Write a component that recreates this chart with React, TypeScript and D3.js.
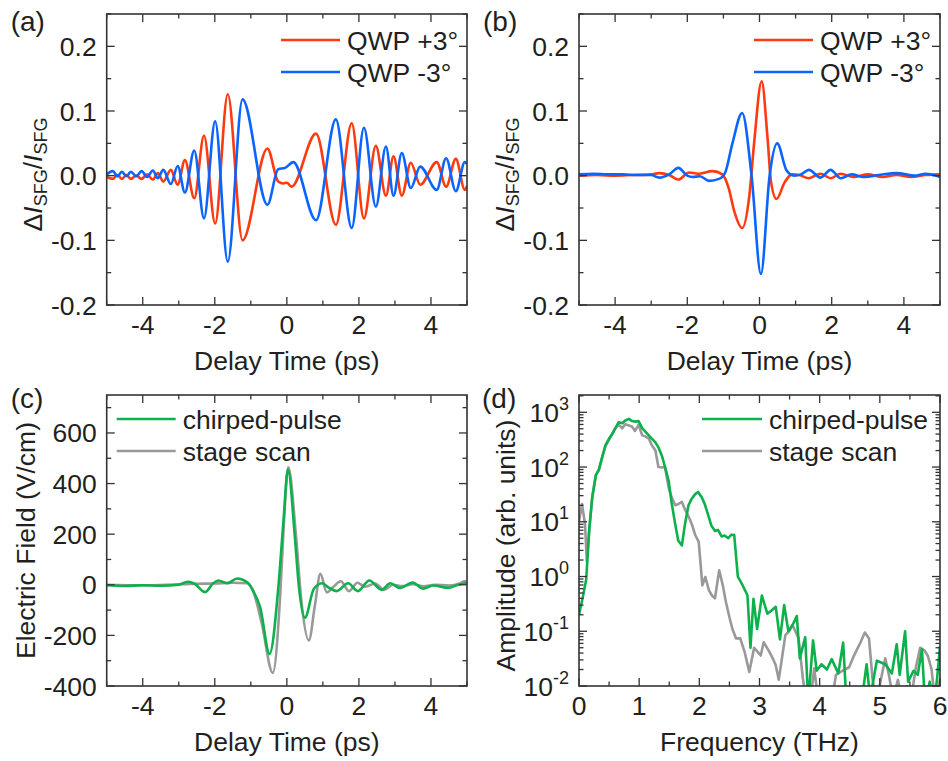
import React from 'react';
import * as d3 from 'd3';

// ---------- DATA ----------
// Panel (a): chirped SFG signal, delay time (ps) vs ΔI/I
const aQwpPlus: [number, number][] = [
  [-5.0, -0.002], [-4.83, -0.005], [-4.70, 0.001], [-4.58, -0.005], [-4.45, 0.001], [-4.33, -0.005],
  [-4.18, 0.0], [-4.03, -0.005], [-3.88, 0.002], [-3.72, -0.006], [-3.58, 0.004], [-3.43, -0.009],
  [-3.22, 0.009], [-3.03, -0.014], [-2.83, 0.024], [-2.57, -0.035], [-2.30, 0.062], [-1.99, -0.074],
  [-1.64, 0.126], [-1.23, -0.100], [-0.54, 0.042], [-0.24, -0.009], [-0.10, -0.012], [0.0, -0.011],
  [0.13, -0.017], [0.81, 0.065], [1.36, -0.076], [1.80, 0.081], [2.14, -0.066], [2.47, 0.046],
  [2.75, -0.031], [2.96, 0.030], [3.19, -0.031], [3.44, 0.020], [3.70, -0.014], [4.16, 0.021],
  [4.42, -0.017], [4.69, 0.026], [4.94, -0.022], [5.0, -0.016],
];
const aQwpMinus: [number, number][] = [
  [-5.0, 0.002], [-4.83, 0.007], [-4.70, -0.001], [-4.58, 0.006], [-4.45, -0.001], [-4.33, 0.006],
  [-4.18, -0.001], [-4.03, 0.007], [-3.88, -0.002], [-3.72, 0.008], [-3.58, -0.004], [-3.43, 0.009],
  [-3.22, -0.013], [-3.03, 0.015], [-2.83, -0.026], [-2.57, 0.039], [-2.30, -0.066], [-1.99, 0.084],
  [-1.64, -0.133], [-1.23, 0.118], [-0.54, -0.045], [-0.24, 0.010], [-0.05, 0.012], [0.18, 0.021],
  [0.81, -0.069], [1.36, 0.087], [1.80, -0.081], [2.14, 0.074], [2.47, -0.048], [2.75, 0.045],
  [2.96, -0.031], [3.19, 0.035], [3.44, -0.019], [3.70, 0.014], [4.16, -0.022], [4.42, 0.027],
  [4.69, -0.024], [4.94, 0.021], [5.0, 0.018],
];

// Panel (b): compressed pulse
const bQwpPlus: [number, number][] = [
  [-5.0, 0.0], [-4.5, 0.001], [-4.0, 0.0], [-3.5, 0.001], [-3.0, 0.002], [-2.78, 0.004], [-2.5, 0.001],
  [-2.25, -0.006], [-1.95, 0.005], [-1.70, 0.003], [-1.30, 0.007], [-1.03, 0.002], [-0.85, -0.02],
  [-0.70, -0.055], [-0.48, -0.081], [-0.28, -0.03], [-0.15, 0.05], [0.06, 0.146], [0.22, 0.06],
  [0.32, -0.01], [0.47, -0.036], [0.70, -0.01], [0.90, 0.002], [1.1, 0.001], [1.37, -0.004],
  [1.69, 0.003], [1.97, -0.004], [2.25, 0.003], [2.6, -0.002], [3.0, 0.002], [3.4, -0.002],
  [3.8, 0.001], [4.2, -0.002], [4.6, 0.001], [5.0, 0.002],
];
const bQwpMinus: [number, number][] = [
  [-5.0, 0.002], [-4.6, 0.003], [-4.2, 0.002], [-3.8, 0.002], [-3.4, 0.001], [-3.0, 0.001],
  [-2.78, -0.003], [-2.5, 0.002], [-2.25, 0.012], [-2.0, 0.0], [-1.86, -0.002], [-1.65, -0.001],
  [-1.40, -0.008], [-1.12, -0.005], [-0.95, 0.005], [-0.75, 0.05], [-0.48, 0.097], [-0.22, 0.0],
  [0.04, -0.152], [0.28, 0.0], [0.49, 0.050], [0.75, 0.008], [0.96, 0.0], [1.15, 0.002],
  [1.37, 0.009], [1.69, -0.003], [1.97, 0.009], [2.25, -0.004], [2.55, 0.002], [2.9, -0.002],
  [3.3, 0.001], [3.8, 0.004], [4.3, 0.0], [4.6, 0.003], [5.0, -0.002],
];

// Panel (c): electric field (V/cm)
const cChirped: [number, number][] = [
  [-5.0, -2], [-4.5, -5], [-4.0, -2], [-3.5, -4], [-3.0, 0], [-2.75, 12], [-2.55, 3], [-2.27, -29],
  [-2.05, 5], [-1.90, 17], [-1.65, 6], [-1.38, 25], [-1.10, 10], [-0.95, -20], [-0.74, -89],
  [-0.48, -273], [-0.23, 0], [-0.10, 240], [0.03, 455], [0.23, 175], [0.33, 0], [0.50, -130],
  [0.75, -16], [0.98, 6], [1.15, -10], [1.38, -25], [1.70, 6], [1.97, -25], [2.29, 17], [2.63, -20],
  [2.87, 6], [3.14, -13], [3.49, 9], [3.78, -15], [4.07, -3], [4.48, -12], [4.71, -2], [5.0, 8],
];
const cStage: [number, number][] = [
  [-5.0, 0], [-4.0, -2], [-3.0, 2], [-2.5, 4], [-2.0, 5], [-1.5, 8], [-1.1, 6], [-0.95, -20],
  [-0.70, -150], [-0.39, -348], [-0.18, -30], [-0.08, 250], [0.04, 464], [0.25, 200], [0.40, -60],
  [0.61, -220], [0.78, -80], [0.93, 43], [1.11, -30], [1.28, -10], [1.50, 14], [1.72, -25],
  [1.96, 8], [2.17, -8], [2.45, 5], [2.70, -20], [2.95, 0], [3.2, -5], [3.5, 2], [3.8, -6],
  [4.1, 0], [4.5, -3], [4.8, 5], [4.93, 15], [5.0, 10],
];

// Panel (d): spectral amplitude (arb. units) vs frequency (THz)
const dChirped: [number, number][] = [
  [0.00, 0.20], [0.06, 0.40], [0.12, 0.89], [0.17, 7.1], [0.22, 28], [0.28, 71], [0.33, 89],
  [0.39, 158], [0.44, 251], [0.50, 331], [0.55, 398], [0.61, 525], [0.66, 661], [0.72, 631],
  [0.77, 708], [0.83, 759], [0.88, 692], [0.94, 676], [0.99, 692], [1.05, 513], [1.10, 447],
  [1.16, 380], [1.21, 331], [1.27, 282], [1.32, 229], [1.38, 158], [1.43, 100], [1.49, 56],
  [1.54, 22], [1.60, 8.9], [1.65, 4.5], [1.71, 3.7], [1.76, 8.9], [1.82, 20], [1.87, 26],
  [1.93, 32], [1.98, 35], [2.04, 28], [2.09, 21], [2.15, 13], [2.20, 8.5], [2.26, 6.8],
  [2.31, 7.1], [2.37, 5.4], [2.42, 5.6], [2.48, 5.0], [2.53, 5.8], [2.58, 5.7], [2.64, 1.0],
  [2.70, 0.76], [2.76, 0.56], [2.80, 0.45], [2.85, 0.05], [2.90, 0.39], [2.96, 0.11], [3.04, 0.45],
  [3.13, 0.21], [3.20, 0.24], [3.27, 0.28], [3.34, 0.071], [3.41, 0.30], [3.48, 0.10], [3.55, 0.13],
  [3.62, 0.19], [3.67, 0.032], [3.76, 0.078], [3.81, 0.005], [3.89, 0.068], [3.95, 0.019],
  [4.03, 0.025], [4.12, 0.020], [4.20, 0.031], [4.31, 0.017], [4.39, 0.062], [4.45, 0.004],
  [4.55, 0.003], [4.65, 0.004], [4.72, 0.008], [4.78, 0.025], [4.84, 0.006], [4.95, 0.029],
  [5.09, 0.025], [5.20, 0.017], [5.28, 0.058], [5.33, 0.016], [5.42, 0.10], [5.47, 0.012],
  [5.56, 0.019], [5.63, 0.016], [5.70, 0.047], [5.75, 0.005], [5.83, 0.012], [5.90, 0.005],
  [5.95, 0.013], [6.00, 0.054],
];
const dStage: [number, number][] = [
  [0.00, 10], [0.05, 21], [0.10, 9], [0.13, 1.9], [0.17, 7.1], [0.22, 28], [0.28, 71], [0.33, 89],
  [0.39, 158], [0.44, 240], [0.50, 316], [0.55, 398], [0.61, 525], [0.66, 589], [0.72, 513],
  [0.77, 603], [0.83, 575], [0.88, 550], [0.93, 457], [0.99, 589], [1.05, 380], [1.10, 363],
  [1.16, 331], [1.21, 251], [1.27, 200], [1.32, 100], [1.38, 98], [1.43, 100], [1.49, 42],
  [1.54, 28], [1.60, 20], [1.65, 21], [1.71, 23], [1.76, 17], [1.82, 12.6], [1.88, 8.7],
  [1.93, 5.8], [1.99, 4.3], [2.05, 0.69], [2.10, 0.98], [2.16, 0.56], [2.21, 0.45], [2.26, 0.40],
  [2.33, 1.3], [2.39, 0.69], [2.44, 0.35], [2.50, 0.18], [2.55, 0.11], [2.61, 0.074], [2.68, 0.074],
  [2.75, 0.043], [2.83, 0.018], [2.91, 0.050], [2.97, 0.042], [3.02, 0.036], [3.07, 0.063],
  [3.16, 0.043], [3.22, 0.032], [3.27, 0.024], [3.32, 0.013], [3.43, 0.085], [3.49, 0.10],
  [3.55, 0.13], [3.65, 0.074], [3.72, 0.014], [3.78, 0.005], [3.85, 0.006], [3.91, 0.021],
  [3.97, 0.006], [4.05, 0.004], [4.12, 0.008], [4.20, 0.005], [4.27, 0.016], [4.38, 0.019],
  [4.49, 0.022], [4.57, 0.036], [4.68, 0.063], [4.75, 0.095], [4.82, 0.074], [4.88, 0.013],
  [4.95, 0.005], [5.01, 0.012], [5.09, 0.032], [5.15, 0.016], [5.22, 0.006], [5.30, 0.013],
  [5.38, 0.005], [5.45, 0.010], [5.52, 0.006], [5.60, 0.022], [5.67, 0.050], [5.74, 0.045],
  [5.80, 0.035], [5.86, 0.020], [5.92, 0.005], [6.00, 0.013],
];

// Tick labels
const delayTicks = [-4, -2, 0, 2, 4];
const delayMinor = [-5, -3, -1, 1, 3, 5];
const sfgTicks = [-0.2, -0.1, 0.0, 0.1, 0.2];
const sfgMinor = [-0.15, -0.05, 0.05, 0.15, 0.25];
const fieldTicks = [-400, -200, 0, 200, 400, 600];
const fieldMinor = [-300, -100, 100, 300, 500, 700];
const freqTicks = [0, 1, 2, 3, 4, 5, 6];
const freqMinor = [0.5, 1.5, 2.5, 3.5, 4.5, 5.5];
const ampExponents = [-2, -1, 0, 1, 2, 3];
const ampMantissas = [2, 3, 4, 5, 6, 7, 8, 9];

const legendQWP = ['QWP +3°', 'QWP -3°'];
const legendField = ['chirped-pulse', 'stage scan'];

// ---------- STYLE ----------
const FONT = '"Liberation Sans", Arial, Helvetica, sans-serif';
const TXT = '#231f20';
const AX = '#333333';
const RED = '#ff3a0e';
const BLUE = '#0a64ff';
const GREEN = '#0db14b';
const GRAY = '#999999';
const FS = 26.5;
const SUB = 18;

type Box = { l: number; r: number; t: number; b: number };
type Scale = (v: number) => number;

function Frame({ box, x, y, xMaj, xMin, yMaj, yMin }: {
  box: Box; x: Scale; y: Scale; xMaj: number[]; xMin: number[]; yMaj: number[]; yMin: number[];
}) {
  const MJ = 8, MN = 4.5;
  const segs: React.ReactNode[] = [];
  const inX = (v: number) => x(v) >= box.l - 0.5 && x(v) <= box.r + 0.5;
  const inY = (v: number) => y(v) >= box.t - 0.5 && y(v) <= box.b + 0.5;
  xMaj.filter(inX).forEach((v, i) => {
    segs.push(<line key={'xb' + i} x1={x(v)} x2={x(v)} y1={box.b} y2={box.b - MJ} />);
    segs.push(<line key={'xt' + i} x1={x(v)} x2={x(v)} y1={box.t} y2={box.t + MJ} />);
  });
  xMin.filter(inX).forEach((v, i) => {
    segs.push(<line key={'xbm' + i} x1={x(v)} x2={x(v)} y1={box.b} y2={box.b - MN} />);
    segs.push(<line key={'xtm' + i} x1={x(v)} x2={x(v)} y1={box.t} y2={box.t + MN} />);
  });
  yMaj.filter(inY).forEach((v, i) => {
    segs.push(<line key={'yl' + i} x1={box.l} x2={box.l + MJ} y1={y(v)} y2={y(v)} />);
    segs.push(<line key={'yr' + i} x1={box.r} x2={box.r - MJ} y1={y(v)} y2={y(v)} />);
  });
  yMin.filter(inY).forEach((v, i) => {
    segs.push(<line key={'ylm' + i} x1={box.l} x2={box.l + MN} y1={y(v)} y2={y(v)} />);
    segs.push(<line key={'yrm' + i} x1={box.r} x2={box.r - MN} y1={y(v)} y2={y(v)} />);
  });
  return (
    <g stroke={AX} strokeWidth={1.3} fill="none">
      {segs}
      <rect x={box.l} y={box.t} width={box.r - box.l} height={box.b - box.t} strokeWidth={1.6} />
    </g>
  );
}

function XLabels({ box, x, ticks, fmt }: { box: Box; x: Scale; ticks: number[]; fmt: (v: number) => string }) {
  return (
    <g fontFamily={FONT} fontSize={FS} fill={TXT} textAnchor="middle">
      {ticks.map((v) => (
        <text key={v} x={x(v)} y={box.b + 29}>{fmt(v)}</text>
      ))}
    </g>
  );
}

function YLabels({ box, y, ticks, fmt }: { box: Box; y: Scale; ticks: number[]; fmt: (v: number) => string }) {
  return (
    <g fontFamily={FONT} fontSize={FS} fill={TXT} textAnchor="end">
      {ticks.map((v) => (
        <text key={v} x={box.l - 10} y={y(v) + 9.5}>{fmt(v)}</text>
      ))}
    </g>
  );
}

function Legend({ x1, x2, ys, colors, labels }: { x1: number; x2: number; ys: number[]; colors: string[]; labels: string[] }) {
  return (
    <g fontFamily={FONT} fontSize={FS} fill={TXT}>
      {labels.map((lab, i) => (
        <g key={lab}>
          <line x1={x1} x2={x2} y1={ys[i]} y2={ys[i]} stroke={colors[i]} strokeWidth={2.6} />
          <text x={x2 + 7} y={ys[i] + 9.5}>{lab}</text>
        </g>
      ))}
    </g>
  );
}

function SfgTitle({ x, y }: { x: number; y: number }) {
  return (
    <text transform={`translate(${x},${y}) rotate(-90)`} textAnchor="middle" fontFamily={FONT} fontSize={FS} fill={TXT}>
      <tspan>Δ</tspan>
      <tspan fontStyle="italic">I</tspan>
      <tspan fontSize={SUB} dy={5}>SFG</tspan>
      <tspan dy={-5}>/</tspan>
      <tspan fontStyle="italic">I</tspan>
      <tspan fontSize={SUB} dy={5}>SFG</tspan>
    </text>
  );
}

const fmtDelay = (v: number) => (v < 0 ? '-' + Math.abs(v) : String(v));
const fmtSfg = (v: number) => (v < 0 ? '-' + Math.abs(v).toFixed(1) : v.toFixed(1));

function SfgPanel({ box, plus, minus, label, id }: { box: Box; plus: [number, number][]; minus: [number, number][]; label: string; id: string }) {
  const x = d3.scaleLinear().domain([-5, 5]).range([box.l, box.r]);
  const y = d3.scaleLinear().domain([-0.2, 0.25]).range([box.b, box.t]);
  const line = d3.line<[number, number]>().x((d) => x(d[0])).y((d) => y(d[1])).curve(d3.curveMonotoneX);
  return (
    <g>
      <defs>
        <clipPath id={id}><rect x={box.l} y={box.t} width={box.r - box.l} height={box.b - box.t} /></clipPath>
      </defs>
      <g clipPath={`url(#${id})`} fill="none" strokeWidth={2.6} strokeLinejoin="round">
        <path d={line(plus) || ''} stroke={RED} />
        <path d={line(minus) || ''} stroke={BLUE} />
      </g>
      <Frame box={box} x={x} y={y} xMaj={delayTicks} xMin={delayMinor} yMaj={sfgTicks} yMin={sfgMinor} />
      <XLabels box={box} x={x} ticks={delayTicks} fmt={fmtDelay} />
      <YLabels box={box} y={y} ticks={sfgTicks} fmt={fmtSfg} />
      <text x={(box.l + box.r) / 2} y={box.b + 65} textAnchor="middle" fontFamily={FONT} fontSize={FS} fill={TXT}>Delay Time (ps)</text>
      <SfgTitle x={box.l - 65} y={(box.t + box.b) / 2 + 15} />
      <Legend x1={box.r - 186} x2={box.r - 127} ys={[box.t + 26, box.t + 58]} colors={[RED, BLUE]} labels={legendQWP} />
      <text x={box.l - 96} y={box.t + 17} fontFamily={FONT} fontSize={28} fill={TXT}>{label}</text>
    </g>
  );
}

function FieldPanel({ box }: { box: Box }) {
  const x = d3.scaleLinear().domain([-5, 5]).range([box.l, box.r]);
  const y = d3.scaleLinear().domain([-400, 750]).range([box.b, box.t]);
  const line = d3.line<[number, number]>().x((d) => x(d[0])).y((d) => y(d[1])).curve(d3.curveMonotoneX);
  return (
    <g>
      <defs>
        <clipPath id="clipC"><rect x={box.l} y={box.t} width={box.r - box.l} height={box.b - box.t} /></clipPath>
      </defs>
      <g clipPath="url(#clipC)" fill="none" strokeWidth={2.6} strokeLinejoin="round">
        <path d={line(cStage) || ''} stroke={GRAY} />
        <path d={line(cChirped) || ''} stroke={GREEN} />
      </g>
      <Frame box={box} x={x} y={y} xMaj={delayTicks} xMin={delayMinor} yMaj={fieldTicks} yMin={fieldMinor} />
      <XLabels box={box} x={x} ticks={delayTicks} fmt={fmtDelay} />
      <YLabels box={box} y={y} ticks={fieldTicks} fmt={fmtDelay} />
      <text x={(box.l + box.r) / 2} y={box.b + 65} textAnchor="middle" fontFamily={FONT} fontSize={FS} fill={TXT}>Delay Time (ps)</text>
      <text transform={`translate(35,${(box.t + box.b) / 2}) rotate(-90)`} textAnchor="middle" fontFamily={FONT} fontSize={FS} fill={TXT}>Electric Field (V/cm)</text>
      <Legend x1={box.l + 10} x2={box.l + 69} ys={[box.t + 24, box.t + 56]} colors={[GREEN, GRAY]} labels={legendField} />
      <text x={box.l - 96} y={box.t + 13} fontFamily={FONT} fontSize={28} fill={TXT}>(c)</text>
    </g>
  );
}

function SpectrumPanel({ box }: { box: Box }) {
  const x = d3.scaleLinear().domain([0, 6]).range([box.l, box.r]);
  const y = d3.scaleLog().domain([0.01, 2070]).range([box.b, box.t]);
  const line = d3.line<[number, number]>().x((d) => x(d[0])).y((d) => y(d[1]));
  const yMaj = ampExponents.map((e) => Math.pow(10, e));
  const yMin: number[] = [];
  ampExponents.forEach((e) => ampMantissas.forEach((m) => yMin.push(m * Math.pow(10, e))));
  return (
    <g>
      <defs>
        <clipPath id="clipD"><rect x={box.l} y={box.t} width={box.r - box.l} height={box.b - box.t} /></clipPath>
      </defs>
      <g clipPath="url(#clipD)" fill="none" strokeWidth={2.6} strokeLinejoin="round">
        <path d={line(dStage) || ''} stroke={GRAY} />
        <path d={line(dChirped) || ''} stroke={GREEN} />
      </g>
      <Frame box={box} x={x} y={y} xMaj={freqTicks} xMin={freqMinor} yMaj={yMaj} yMin={yMin} />
      <XLabels box={box} x={x} ticks={freqTicks} fmt={(v) => String(v)} />
      <g fontFamily={FONT} fontSize={FS} fill={TXT} textAnchor="end">
        {ampExponents.map((e) => (
          <text key={e} x={box.l - 10} y={y(Math.pow(10, e)) + 9.5}>
            10<tspan fontSize={SUB} dy={-12}>{e < 0 ? '-' + Math.abs(e) : String(e)}</tspan>
          </text>
        ))}
      </g>
      <text x={(box.l + box.r) / 2} y={box.b + 65} textAnchor="middle" fontFamily={FONT} fontSize={FS} fill={TXT}>Frequency (THz)</text>
      <text transform={`translate(515,${(box.t + box.b) / 2 + 5}) rotate(-90)`} textAnchor="middle" fontFamily={FONT} fontSize={FS} fill={TXT}>Amplitude (arb. units)</text>
      <Legend x1={box.r - 238} x2={box.r - 178} ys={[box.t + 24, box.t + 56]} colors={[GREEN, GRAY]} labels={legendField} />
      <text x={box.l - 97} y={box.t + 13} fontFamily={FONT} fontSize={28} fill={TXT}>(d)</text>
    </g>
  );
}

export default function App() {
  const A: Box = { l: 106.7, r: 467, t: 14, b: 305 };
  const B: Box = { l: 579, r: 940, t: 14, b: 305 };
  const C: Box = { l: 106.7, r: 467, t: 395, b: 686 };
  const D: Box = { l: 579, r: 940, t: 395, b: 686 };
  return (
    <svg width={948} height={761} style={{ position: 'absolute', left: 0, top: 0, background: '#fff' }}>
      <rect x={0} y={0} width={948} height={761} fill="#fff" />
      <SfgPanel box={A} plus={aQwpPlus} minus={aQwpMinus} label="(a)" id="clipA" />
      <SfgPanel box={B} plus={bQwpPlus} minus={bQwpMinus} label="(b)" id="clipB" />
      <FieldPanel box={C} />
      <SpectrumPanel box={D} />
    </svg>
  );
}
